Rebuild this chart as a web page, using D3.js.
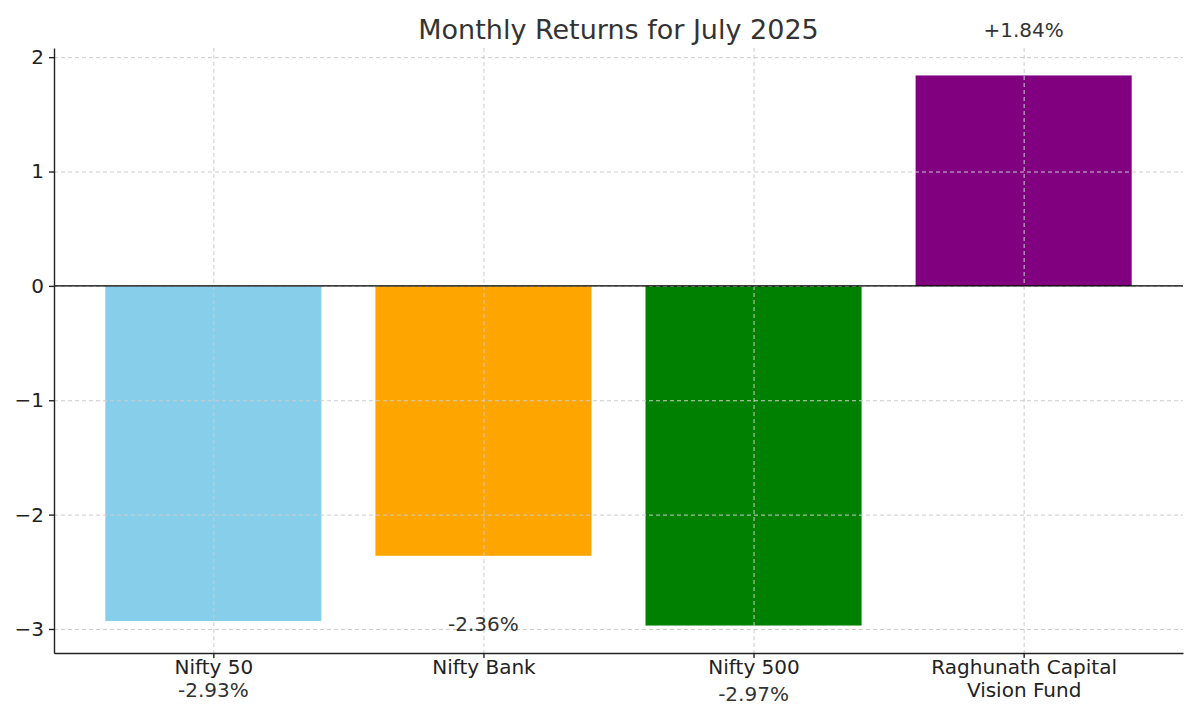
<!DOCTYPE html>
<html>
<head>
<meta charset="utf-8">
<script src="https://cdn.jsdelivr.net/npm/d3@7"></script>
<style>
  body { margin: 0; background: #fff; }
  text { font-family: "DejaVu Sans", sans-serif; }
  .grid line { stroke: #cccccc; stroke-dasharray: 4,3; stroke-width: 1; }
  .grid path { display: none; }
  .axis path, .axis line { stroke: #222; stroke-width: 1.4; }
  .axis text { fill: #222; font-size: 20px; }
</style>
</head>
<body>
<div id="chart"></div>
<script>
  var categories = ["Nifty 50", "Nifty Bank", "Nifty 500", "Raghunath Capital\nVision Fund"]
  var returns = [-2.93, -2.36, -2.97, 1.84]
  var labels = ["-2.93%", "-2.36%", "-2.97%", "+1.84%"]
  var colors = ["#87CEEB", "#FFA500", "#008000", "#800080"]
  var yTicks = [-3, -2, -1, 0, 1, 2]

  var width = 1200, height = 720
  var margin = { top: 48, right: 17, bottom: 67, left: 54 },
    plotW = width - margin.left - margin.right,
    plotH = height - margin.top - margin.bottom

  var svg = d3.select("#chart").append("svg")
    .attr("width", width)
    .attr("height", height)

  var g = svg.append("g")
    .attr("transform", "translate(" + margin.left + "," + margin.top + ")")

  // matplotlib style limits: bars of width 0.8 plus 5% margin
  var x = d3.scaleLinear()
    .domain([-0.59, categories.length - 1 + 0.59])
    .range([0, plotW])

  var y = d3.scaleLinear()
    .domain([-3.21, 2.08])
    .range([plotH, 0])

  var barW = x(0.8) - x(0)

  // bars
  g.selectAll("rect.bar")
    .data(returns)
    .enter().append("rect")
    .attr("class", "bar")
    .attr("x", function (d, i) { return x(i - 0.4) })
    .attr("width", barW)
    .attr("y", function (d) { return y(Math.max(0, d)) })
    .attr("height", function (d) { return Math.abs(y(d) - y(0)) })
    .style("fill", function (d, i) { return colors[i] })

  // grid on top of bars
  g.append("g")
    .attr("class", "grid")
    .call(d3.axisLeft(y).tickValues(yTicks).tickSize(-plotW).tickFormat(""))

  g.append("g")
    .attr("class", "grid")
    .call(d3.axisBottom(x).tickValues(d3.range(categories.length)).tickSize(plotH).tickFormat(""))

  // zero line
  g.append("line")
    .attr("x1", 0).attr("x2", plotW)
    .attr("y1", y(0)).attr("y2", y(0))
    .style("stroke", "#000").style("stroke-width", 1.3)

  // axes (only left and bottom spines)
  g.append("g")
    .attr("class", "axis")
    .call(d3.axisLeft(y).tickValues(yTicks).tickSizeOuter(0).tickSizeInner(5).tickPadding(5)
      .tickFormat(function (d) { return d < 0 ? "\u2212" + Math.abs(d) : d }))

  var xAxis = g.append("g")
    .attr("class", "axis")
    .attr("transform", "translate(0," + plotH + ")")
    .call(d3.axisBottom(x).tickValues(d3.range(categories.length)).tickSizeOuter(0).tickSizeInner(5).tickFormat(""))

  xAxis.selectAll(".tick")
    .append("text")
    .attr("text-anchor", "middle")
    .each(function (d) {
      var lines = categories[d].split("\n")
      var t = d3.select(this)
      lines.forEach(function (s, k) {
        t.append("tspan").attr("x", 0).attr("y", 21 + k * 23).text(s)
      })
    })

  // value labels
  g.selectAll("text.val")
    .data(returns)
    .enter().append("text")
    .attr("class", "val")
    .attr("x", function (d, i) { return x(i) })
    .attr("y", function (d) { return y(d < 0 ? d - 0.6 : d + 0.4) })
    .attr("text-anchor", "middle")
    .attr("dominant-baseline", "central")
    .style("font-size", "20px")
    .style("fill", "#333")
    .text(function (d, i) { return labels[i] })

  // title
  svg.append("text")
    .attr("x", margin.left + plotW / 2)
    .attr("y", 39)
    .attr("text-anchor", "middle")
    .style("font-size", "27px")
    .style("fill", "#333")
    .text("Monthly Returns for July 2025")
</script>
</body>
</html>
